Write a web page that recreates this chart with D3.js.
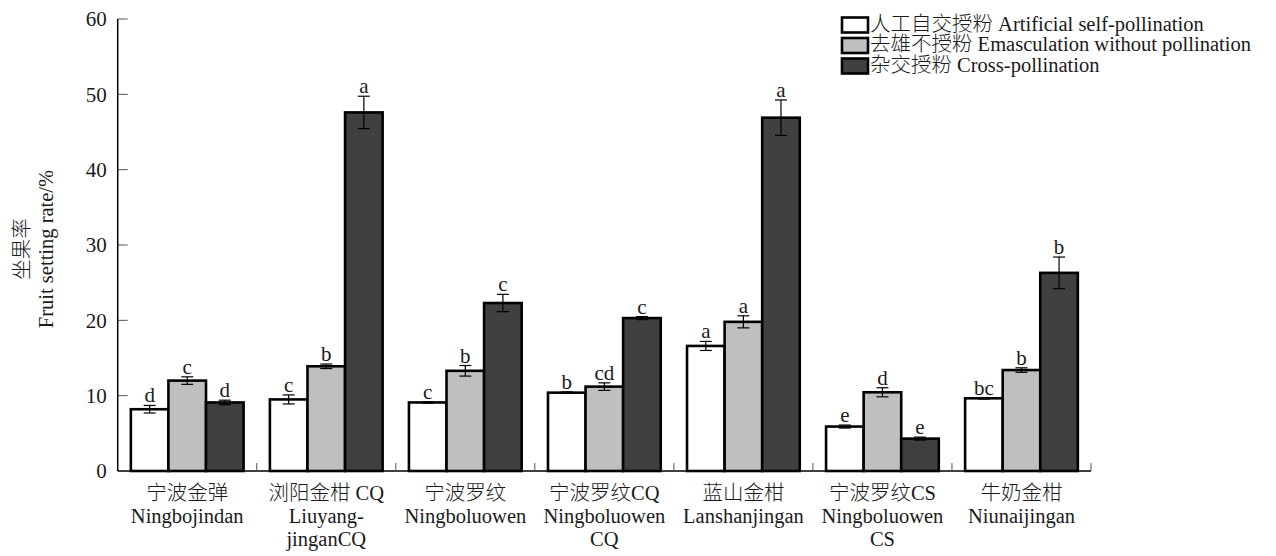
<!DOCTYPE html>
<html>
<head>
<meta charset="utf-8">
<script src="https://cdn.jsdelivr.net/npm/d3@7"></script>
<style>
  html, body { margin: 0; padding: 0; background: #fff; }
  svg { display: block; }
  text { font-family: "Liberation Serif", "Noto Sans CJK SC", serif; font-weight: 300; fill: #1a1a1a; }
</style>
</head>
<body>
<svg id="chart" width="1276" height="556"></svg>
<script>
// ---- data ----
const categoriesCn = ["宁波金弹", "浏阳金柑 CQ", "宁波罗纹", "宁波罗纹CQ", "蓝山金柑", "宁波罗纹CS", "牛奶金柑"];
const categoriesEn = [["Ningbojindan"], ["Liuyang-", "jinganCQ"], ["Ningboluowen"], ["Ningboluowen", "CQ"], ["Lanshanjingan"], ["Ningboluowen", "CS"], ["Niunaijingan"]];
const seriesNames = ["人工自交授粉 Artificial self-pollination", "去雄不授粉 Emasculation without pollination", "杂交授粉 Cross-pollination"];
const selfValues  = [8.2, 9.5, 9.1, 10.4, 16.6, 5.9, 9.65];
const selfErr     = [0.5, 0.6, 0.1, 0.1, 0.6, 0.2, 0.1];
const emascValues = [12.0, 13.9, 13.3, 11.2, 19.8, 10.45, 13.4];
const emascErr    = [0.5, 0.3, 0.7, 0.5, 0.8, 0.6, 0.3];
const crossValues = [9.1, 47.6, 22.3, 20.3, 46.9, 4.3, 26.3];
const crossErr    = [0.3, 2.15, 1.15, 0.2, 2.35, 0.2, 2.1];
const selfSig  = ["d", "c", "c", "b", "a", "e", "bc"];
const emascSig = ["c", "b", "b", "cd", "a", "d", "b"];
const crossSig = ["d", "a", "c", "c", "a", "e", "b"];
const yTicks = [0, 10, 20, 30, 40, 50, 60];

// ---- layout / styles ----
const colors = ["#ffffff", "#bfbfbf", "#404040"];
const plotLeft = 117.7, plotRight = 1091, plotTop = 19, plotBottom = 471;
const svg = d3.select("#chart");

const y = d3.scaleLinear().domain([0, 60]).range([plotBottom, plotTop]);
const x0 = d3.scaleBand().domain(d3.range(categoriesCn.length)).range([plotLeft, plotRight]).padding(0);
const x1 = d3.scaleBand().domain(d3.range(3)).range([0, x0.bandwidth()]).paddingInner(0).paddingOuter(0.35);

const values = [selfValues, emascValues, crossValues];
const errs = [selfErr, emascErr, crossErr];
const sigs = [selfSig, emascSig, crossSig];

const data = [];
categoriesCn.forEach((c, i) => {
  for (let s = 0; s < 3; s++) {
    data.push({ cat: i, s, v: values[s][i], e: errs[s][i], sig: sigs[s][i] });
  }
});
const cx = d => x0(d.cat) + x1(d.s) + x1.bandwidth() / 2;

// bars
const g = svg.append("g");
g.selectAll("rect.bar").data(data).enter().append("rect")
  .attr("class", "bar")
  .attr("x", d => x0(d.cat) + x1(d.s))
  .attr("y", d => y(d.v))
  .attr("width", x1.bandwidth())
  .attr("height", d => y(0) - y(d.v))
  .attr("fill", d => colors[d.s])
  .attr("stroke", "#000")
  .attr("stroke-width", 2.6);

// error bars
const capW = 12;
const eb = g.selectAll("g.err").data(data).enter().append("g").attr("class", "err");
eb.append("line")
  .attr("x1", cx).attr("x2", cx)
  .attr("y1", d => y(d.v + d.e))
  .attr("y2", d => y(d.v - d.e))
  .attr("stroke", "#000").attr("stroke-width", 1.2);
[1, -1].forEach(sign => {
  eb.append("line")
    .attr("x1", d => cx(d) - capW / 2)
    .attr("x2", d => cx(d) + capW / 2)
    .attr("y1", d => y(d.v + sign * d.e))
    .attr("y2", d => y(d.v + sign * d.e))
    .attr("stroke", "#000").attr("stroke-width", 1.2);
});

// significance letters
g.selectAll("text.sig").data(data).enter().append("text")
  .attr("class", "sig")
  .attr("x", cx)
  .attr("y", d => y(d.v + d.e) - 3)
  .attr("text-anchor", "middle")
  .attr("font-size", 21)
  .text(d => d.sig);

// y axis
const yAxis = d3.axisLeft(y).tickValues(yTicks).tickSize(0).tickPadding(11);
const ya = svg.append("g").attr("transform", `translate(${plotLeft},0)`).call(yAxis);
ya.attr("font-family", null).attr("font-size", null);
ya.select(".domain").remove();
ya.selectAll("text").attr("font-size", 21).attr("fill", "#1a1a1a");
svg.selectAll("line.ytick").data(yTicks.filter(t => t > 0)).enter().append("line")
  .attr("class", "ytick")
  .attr("x1", plotLeft).attr("x2", plotLeft + 10)
  .attr("y1", d => y(d)).attr("y2", d => y(d))
  .attr("stroke", "#555").attr("stroke-width", 1);
svg.append("line").attr("x1", plotLeft).attr("x2", plotLeft).attr("y1", y(60)).attr("y2", y(0))
  .attr("stroke", "#000").attr("stroke-width", 1.5);

// x axis
svg.append("line").attr("x1", plotLeft).attr("x2", plotRight).attr("y1", y(0)).attr("y2", y(0))
  .attr("stroke", "#000").attr("stroke-width", 1.5);
const bounds = d3.range(1, categoriesCn.length + 1).map(i => i < categoriesCn.length ? x0(i) : plotRight);
svg.selectAll("line.xsep").data(bounds).enter().append("line")
  .attr("class", "xsep")
  .attr("x1", d => d).attr("x2", d => d)
  .attr("y1", y(0)).attr("y2", y(0) - 8)
  .attr("stroke", "#555").attr("stroke-width", 1);

// x labels
const xl = svg.selectAll("g.xlab").data(categoriesCn).enter().append("g")
  .attr("class", "xlab")
  .attr("transform", (d, i) => `translate(${x0(i) + x0.bandwidth() / 2},0)`);
xl.append("text").attr("y", 500).attr("text-anchor", "middle").attr("font-size", 20.5).text(d => d);
xl.each(function(d, i) {
  categoriesEn[i].forEach((line, j) => {
    d3.select(this).append("text").attr("y", 523 + j * 23).attr("text-anchor", "middle")
      .attr("font-size", 20.5).text(line);
  });
});

// y title
const yt = svg.append("g").attr("transform", "translate(0,249) rotate(-90)");
yt.append("text").attr("x", 0).attr("y", 29).attr("text-anchor", "middle").attr("font-size", 20.5).text("坐果率");
yt.append("text").attr("x", 0).attr("y", 53).attr("text-anchor", "middle").attr("font-size", 20.5).text("Fruit setting rate/%");

// legend
const lg = svg.selectAll("g.leg").data(seriesNames).enter().append("g")
  .attr("class", "leg")
  .attr("transform", (d, i) => `translate(842,${30.5 + i * 20.5})`);
lg.append("rect").attr("x", 0).attr("y", -13).attr("width", 26).attr("height", 15)
  .attr("fill", (d, i) => colors[i]).attr("stroke", "#000").attr("stroke-width", 2.6);
lg.append("text").attr("x", 28).attr("y", 0).attr("font-size", 20.5).text(d => d);
</script>
</body>
</html>
